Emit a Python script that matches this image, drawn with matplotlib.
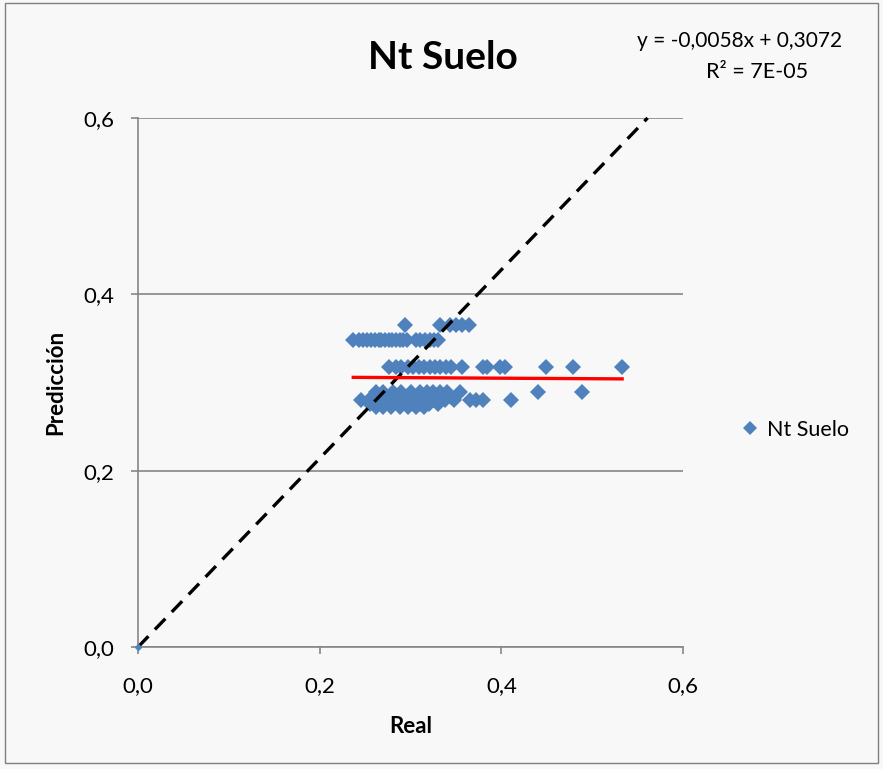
import numpy as np
import matplotlib
matplotlib.use("Agg")
from matplotlib import pyplot as plt
from matplotlib.patches import Rectangle

plt.rcParams['font.family'] = ['Lato', 'DejaVu Sans']

# Measured (real) vs predicted soil total N, grouped by prediction level
real_a = [0.294, 0.332, 0.343, 0.350, 0.357, 0.364]
pred_a = [0.365] * len(real_a)

real_b = [0.237, 0.243, 0.248, 0.252, 0.257, 0.261, 0.265, 0.268, 0.272, 0.276,
          0.280, 0.284, 0.288, 0.292, 0.296, 0.306, 0.311, 0.316, 0.321, 0.326, 0.330]
pred_b = [0.348] * len(real_b)

real_c = [0.276, 0.284, 0.290, 0.297, 0.303, 0.309, 0.315, 0.321, 0.327, 0.333,
          0.339, 0.345, 0.357, 0.380, 0.384, 0.398, 0.404, 0.449, 0.479, 0.533]
pred_c = [0.318] * len(real_c)

real_d = [0.262, 0.270, 0.281, 0.290, 0.300, 0.310, 0.318, 0.325, 0.333, 0.340,
          0.355, 0.440, 0.489]
pred_d = [0.289] * len(real_d)

real_e = [0.258, 0.266, 0.275, 0.284, 0.294, 0.303, 0.312, 0.320, 0.328, 0.336, 0.345]
pred_e = [0.284] * len(real_e)

real_f = [0.245, 0.268, 0.278, 0.288, 0.298, 0.306, 0.316, 0.326, 0.338, 0.348,
          0.366, 0.372, 0.380, 0.411]
pred_f = [0.280] * len(real_f)

real_g = [0.255, 0.263, 0.272, 0.281, 0.290, 0.300, 0.310, 0.320, 0.330]
pred_g = [0.276] * len(real_g)

real_h = [0.262, 0.270, 0.279, 0.288, 0.297, 0.306, 0.315]
pred_h = [0.272] * len(real_h)

# Trendline reported for the series
slope, intercept = -0.0058, 0.3072
eq_text = "y = -0,0058x + 0,3072"
r2_text = "R² = 7E-05"

# 1:1 reference line ends
ref_x = [0.0, 0.561]
ref_y = [0.0, 0.6]

real = np.array(real_a + real_b + real_c + real_d + real_e + real_f + real_g + real_h)
pred = np.array(pred_a + pred_b + pred_c + pred_d + pred_e + pred_f + pred_g + pred_h)

blue = '#4f81bd'
bg = '#f8f8f8'

fig = plt.figure(figsize=(8.83, 7.69), dpi=100, facecolor=bg)
fig.patches.append(Rectangle((0.006, 0.008), 0.988, 0.988, transform=fig.transFigure,
                             fill=False, edgecolor='#7f7f7f', linewidth=1.0))
ax = fig.add_axes([0.1563, 0.1586, 0.6172, 0.6880])
ax.set_facecolor(bg)

ax.plot(ref_x, ref_y, color='black', linestyle=(0, (4.5, 2.8)), linewidth=2.4,
        marker='D', markersize=3, markerfacecolor=blue, markeredgecolor=blue,
        markevery=[0], zorder=4, clip_on=False)
ax.plot(real, pred, linestyle='none', marker='D', markersize=8, color=blue,
        markeredgewidth=0, zorder=3, label='Nt Suelo')

tx = np.array([real.min(), real.max()])
ax.plot(tx, slope * tx + intercept, color='#ff0000', linewidth=2.4, zorder=5)

ax.set_xlim(0, 0.6)
ax.set_ylim(0, 0.6)
ticks = [0.0, 0.2, 0.4, 0.6]
labels = ['0,0', '0,2', '0,4', '0,6']
ax.set_xticks(ticks)
ax.set_xticklabels(labels)
ax.set_yticks(ticks)
ax.set_yticklabels(labels)
ax.tick_params(labelsize=16, color='#868686', length=5, width=1.2)
ax.tick_params(axis='x', pad=16)
ax.tick_params(axis='y', pad=12)
ax.yaxis.grid(True, color='#868686', linewidth=1.2)
ax.set_axisbelow(True)
for side in ('top', 'right'):
    ax.spines[side].set_visible(False)
for side in ('left', 'bottom'):
    ax.spines[side].set_color('#868686')
    ax.spines[side].set_linewidth(1.2)

ax.set_xlabel('Real', fontsize=16, fontweight='bold', labelpad=14)
ax.set_ylabel('Predicción', fontsize=16, fontweight='bold', labelpad=12)

fig.text(0.502, 0.925, 'Nt Suelo', fontsize=28, fontweight='bold', ha='center', va='center')
fig.text(0.838, 0.947, eq_text, fontsize=15, ha='center', va='center')
fig.text(0.857, 0.906, r2_text, fontsize=15.5, ha='center', va='center')

fig.legend(handles=[ax.lines[1]], loc='center left', bbox_to_anchor=(0.82, 0.441),
           frameon=False, fontsize=15.5, handlelength=0.6, handletextpad=0.5,
           markerscale=0.9)

fig.savefig('out.png', dpi=100, facecolor=bg)
